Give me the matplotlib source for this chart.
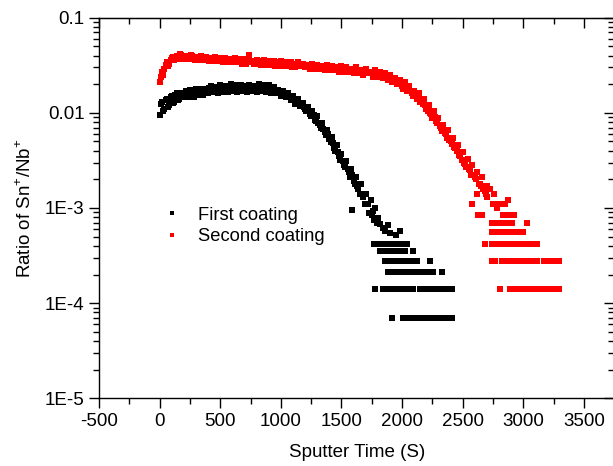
import matplotlib
matplotlib.use("Agg")
import matplotlib.pyplot as plt
from matplotlib.ticker import FixedLocator, LogLocator, NullFormatter

plt.rcParams["font.family"] = ["Liberation Sans", "DejaVu Sans"]
plt.rcParams["mathtext.fontset"] = "custom"
plt.rcParams["mathtext.rm"] = "Liberation Sans"
plt.rcParams["axes.unicode_minus"] = False

# First coating: continuous part (every 20 s)
first_t = [0, 20, 40, 60, 80, 100, 120, 140, 160, 180,
           200, 220, 240, 260, 280, 300, 320, 340, 360, 380,
           400, 420, 440, 460, 480, 500, 520, 540, 560, 580,
           600, 620, 640, 660, 680, 700, 720, 740, 760, 780,
           800, 820, 840, 860, 880, 900, 920, 940, 960, 980,
           1000, 1020, 1040, 1060, 1080, 1100, 1120, 1140, 1160, 1180,
           1200, 1220, 1240, 1260, 1280, 1300, 1320, 1340, 1360, 1380,
           1400, 1420, 1440, 1460, 1480, 1500, 1520, 1540, 1560, 1580,
           1600, 1620, 1640, 1660, 1680, 1700, 1720, 1740, 1760, 1780,
           1800, 1590, 1820, 1840, 1860, 1880, 1900, 1950, 1980]
first_y = [0.0095, 0.013, 0.011, 0.014, 0.012, 0.015, 0.013, 0.016, 0.014, 0.016,
           0.0145, 0.017, 0.015, 0.0165, 0.0145, 0.018, 0.0155, 0.017, 0.0155, 0.018,
           0.016, 0.019, 0.0165, 0.018, 0.016, 0.0195, 0.017, 0.019, 0.0165, 0.0185,
           0.017, 0.0195, 0.0165, 0.019, 0.017, 0.0185, 0.0165, 0.0195, 0.017, 0.019,
           0.0165, 0.020, 0.017, 0.0185, 0.0165, 0.0195, 0.016, 0.0185, 0.016, 0.0175,
           0.015, 0.017, 0.0145, 0.016, 0.0135, 0.015, 0.0125, 0.014, 0.0118, 0.0128,
           0.011, 0.0115, 0.0098, 0.0105, 0.0085, 0.0092, 0.0074, 0.0078, 0.0063, 0.0066,
           0.0053, 0.0056, 0.0043, 0.0046, 0.0035, 0.0037, 0.0028, 0.0031, 0.0024, 0.0026,
           0.0019, 0.0021, 0.0016, 0.0018, 0.0013, 0.0014, 0.0011, 0.0012, 0.00092, 0.0010,
           0.00078, 0.00095, 0.00068, 0.00062, 0.00058, 0.00066, 0.00055, 0.00052, 0.00058]
# the in-between readings (10 s offset)
first_t2 = [10, 30, 50, 70, 90, 110, 130, 150, 170, 190,
            210, 230, 250, 270, 290, 310, 330, 350, 370, 390,
            410, 430, 450, 470, 490, 510, 530, 550, 570, 590,
            610, 630, 650, 670, 690, 710, 730, 750, 770, 790,
            810, 830, 850, 870, 890, 910, 930, 950, 970, 990,
            1010, 1030, 1050, 1070, 1090, 1110, 1130, 1150, 1170, 1190,
            1210, 1230, 1250, 1270, 1290, 1310, 1330, 1350, 1370, 1390,
            1410, 1430, 1450, 1470, 1490, 1510, 1530, 1550, 1570, 1590,
            1610, 1630, 1650, 1670, 1690, 1710, 1730, 1750, 1770, 1790]
first_y2 = [0.0125, 0.0105, 0.0135, 0.0115, 0.0145, 0.0128, 0.0155, 0.0135, 0.0162, 0.015,
            0.0158, 0.0148, 0.0172, 0.0155, 0.0168, 0.0162, 0.0178, 0.0165, 0.0172, 0.0168,
            0.0182, 0.0172, 0.0188, 0.017, 0.0182, 0.0175, 0.0165, 0.0185, 0.0178, 0.020,
            0.0178, 0.0183, 0.0175, 0.0195, 0.0178, 0.019, 0.0182, 0.0178, 0.0188, 0.0175,
            0.0185, 0.0178, 0.0195, 0.0176, 0.0182, 0.0172, 0.0178, 0.0168, 0.0166, 0.0162,
            0.0158, 0.0155, 0.0152, 0.0145, 0.0142, 0.0138, 0.0132, 0.0125, 0.0122, 0.0116,
            0.0104, 0.0105, 0.0092, 0.0095, 0.0082, 0.0079, 0.0070, 0.0068, 0.0058, 0.0060,
            0.0049, 0.0048, 0.0040, 0.0039, 0.0032, 0.0031, 0.0027, 0.0026, 0.0021, 0.0022,
            0.0018, 0.0017, 0.0014, 0.0014, 0.0011, 0.0011, 0.00088, 0.00085, 0.00075, 0.0007]

# First coating: count-limited tail, one row per level
first_lvl1_t = [1920, 2010, 2030, 2050, 2070, 2090, 2110, 2130, 2150, 2175,
                2200, 2225, 2250, 2275, 2300, 2325, 2350, 2375, 2395, 2410]
first_lvl2_t = [1780, 1840, 1860, 1880, 1900, 1925, 1950, 1975, 2000, 2025,
                2050, 2075, 2090, 2150, 2170, 2195, 2220, 2245, 2270, 2295,
                2320, 2345, 2370, 2390, 2410]
first_lvl3_t = [1885, 1905, 1925, 1950, 1975, 2000, 2030, 2060, 2090, 2130,
                2150, 2170, 2190, 2210, 2235, 2255, 2330]
first_lvl4_t = [1860, 1880, 1900, 1920, 1945, 1970, 1990, 2010, 2040, 2070,
                2100, 2125, 2230]
first_lvl5_t = [1820, 1840, 1860, 1880, 1900, 1925, 1950, 1975, 2000, 2025, 2090]
first_lvl6_t = [1770, 1790, 1810, 1830, 1850, 1870, 1890, 1910, 1930, 1960,
                1990, 2040]
first_levels = [7e-5, 1.4e-4, 2.1e-4, 2.8e-4, 3.5e-4, 4.2e-4]

# Second coating: continuous part (every 20 s) plus a few stray points
second_t = [0, 20, 40, 60, 80, 100, 120, 140, 160, 180,
            200, 220, 240, 260, 280, 300, 320, 340, 360, 380,
            400, 420, 440, 460, 480, 500, 520, 540, 560, 580,
            600, 620, 640, 660, 680, 700, 720, 740, 760, 780,
            800, 820, 840, 860, 880, 900, 920, 940, 960, 980,
            1000, 1020, 1040, 1060, 1080, 1100, 1120, 1140, 1160, 1180,
            1200, 1220, 1240, 1260, 1280, 1300, 1320, 1340, 1360, 1380,
            1400, 1420, 1440, 1460, 1480, 1500, 1520, 1540, 1560, 1580,
            1600, 1620, 1640, 1660, 1680, 1700, 1720, 1740, 1760, 1780,
            1800, 1820, 1840, 1860, 1880, 1900, 1920, 1940, 1960, 1980,
            2000, 2020, 2040, 2060, 2080, 2100, 2120, 2140, 2160, 2180,
            2200, 2220, 2240, 2260, 2280, 2300, 2320, 2340, 2360, 2380,
            2400, 2420, 2440, 2460, 2480, 2500, 2520, 2540, 2560, 2580,
            2600, 2620, 2640, 2660, 2680, 2700,
            2575, 2615, 2700, 2725, 2750, 2760, 2780, 2800, 2850, 2875]
second_y = [0.021, 0.027, 0.029, 0.034, 0.033, 0.038, 0.036, 0.040, 0.037, 0.041,
            0.038, 0.040, 0.037, 0.041, 0.038, 0.039, 0.036, 0.040, 0.037, 0.039,
            0.036, 0.038, 0.035, 0.039, 0.036, 0.037, 0.034, 0.038, 0.035, 0.037,
            0.034, 0.038, 0.035, 0.036, 0.033, 0.037, 0.034, 0.041, 0.035, 0.033,
            0.036, 0.034, 0.032, 0.036, 0.033, 0.035, 0.032, 0.035, 0.033, 0.031,
            0.035, 0.032, 0.034, 0.031, 0.034, 0.032, 0.030, 0.034, 0.031, 0.033,
            0.030, 0.032, 0.029, 0.033, 0.030, 0.032, 0.029, 0.031, 0.028, 0.032,
            0.029, 0.031, 0.028, 0.030, 0.027, 0.031, 0.028, 0.030, 0.027, 0.029,
            0.026, 0.030, 0.027, 0.028, 0.025, 0.029, 0.026, 0.027, 0.024, 0.028,
            0.025, 0.027, 0.023, 0.026, 0.022, 0.025, 0.021, 0.023, 0.020, 0.022,
            0.019, 0.021, 0.017, 0.019, 0.016, 0.017, 0.014, 0.016, 0.013, 0.014,
            0.011, 0.012, 0.0098, 0.0105, 0.0082, 0.0088, 0.0070, 0.0075, 0.0060, 0.0066,
            0.0050, 0.0055, 0.0043, 0.0046, 0.0035, 0.0039, 0.0029, 0.0033, 0.0025, 0.0028,
            0.0021, 0.0024, 0.0018, 0.0021, 0.0015, 0.0017,
            0.0011, 0.0014, 0.0013, 0.0016, 0.0011, 0.0014, 0.0010, 0.0011, 0.0011, 0.0012]
second_t2 = [10, 30, 50, 70, 90, 110, 130, 150, 170, 190,
             210, 230, 250, 270, 290, 310, 330, 350, 370, 390,
             410, 430, 450, 470, 490, 510, 530, 550, 570, 590,
             610, 630, 650, 670, 690, 710, 730, 750, 770, 790,
             810, 830, 850, 870, 890, 910, 930, 950, 970, 990,
             1010, 1030, 1050, 1070, 1090, 1110, 1130, 1150, 1170, 1190,
             1210, 1230, 1250, 1270, 1290, 1310, 1330, 1350, 1370, 1390,
             1410, 1430, 1450, 1470, 1490, 1510, 1530, 1550, 1570, 1590,
             1610, 1630, 1650, 1670, 1690, 1710, 1730, 1750, 1770, 1790,
             1810, 1830, 1850, 1870, 1890, 1910, 1930, 1950, 1970, 1990,
             2010, 2030, 2050, 2070, 2090, 2110, 2130, 2150, 2170, 2190,
             2210, 2230, 2250, 2270, 2290, 2310, 2330, 2350, 2370, 2390,
             2410, 2430, 2450, 2470, 2490, 2510, 2530, 2550, 2570, 2590,
             2610, 2630, 2650, 2670, 2690]
second_y2 = [0.024, 0.025, 0.032, 0.031, 0.036, 0.039, 0.037, 0.039, 0.042, 0.039,
             0.037, 0.039, 0.038, 0.040, 0.036, 0.038, 0.039, 0.036, 0.038, 0.037,
             0.035, 0.037, 0.036, 0.035, 0.038, 0.036, 0.035, 0.036, 0.034, 0.036,
             0.035, 0.034, 0.037, 0.035, 0.035, 0.033, 0.036, 0.034, 0.035, 0.034,
             0.033, 0.035, 0.034, 0.032, 0.034, 0.033, 0.034, 0.031, 0.034, 0.033,
             0.031, 0.033, 0.032, 0.033, 0.030, 0.033, 0.031, 0.032, 0.031, 0.031,
             0.031, 0.030, 0.031, 0.031, 0.029, 0.031, 0.030, 0.030, 0.029, 0.030,
             0.028, 0.030, 0.029, 0.028, 0.029, 0.029, 0.027, 0.029, 0.028, 0.028,
             0.027, 0.028, 0.026, 0.028, 0.027, 0.026, 0.027, 0.026, 0.025, 0.026,
             0.024, 0.025, 0.024, 0.024, 0.023, 0.023, 0.022, 0.021, 0.021, 0.020,
             0.018, 0.019, 0.018, 0.017, 0.015, 0.0155, 0.015, 0.013, 0.0125, 0.012,
             0.0105, 0.010, 0.0088, 0.0090, 0.0078, 0.0072, 0.0065, 0.0062, 0.0055, 0.0052,
             0.0047, 0.0044, 0.0040, 0.0036, 0.0032, 0.0030, 0.0027, 0.0026, 0.0022, 0.0022,
             0.0020, 0.0018, 0.0017, 0.0016, 0.0014]

# Second coating: count-limited tail
second_lvl1_t = [2810, 2890, 2905, 2920, 2935, 2950, 2965, 2985, 3000, 3015,
                 3035, 3050, 3065, 3080, 3100, 3115, 3130, 3150, 3170, 3190,
                 3210, 3230, 3250, 3265, 3280, 3290]
second_lvl2_t = [2745, 2770, 2820, 2850, 2870, 2890, 2905, 2925, 2945, 2960,
                 2980, 3000, 3020, 3040, 3060, 3075, 3095, 3115, 3170, 3200,
                 3230, 3260, 3290]
second_lvl3_t = [2685, 2745, 2770, 2800, 2840, 2860, 2880, 2900, 2925, 2950,
                 2975, 3000, 3030, 3060, 3085, 3115]
second_lvl4_t = [2740, 2760, 2790, 2820, 2850, 2875, 2925, 2950, 3000]
second_lvl5_t = [2740, 2760, 2790, 2820, 2850, 2880, 2910, 3030]
second_lvl6_t = [2625, 2660, 2830, 2860, 2890, 2920]
second_levels = [1.4e-4, 2.8e-4, 4.2e-4, 5.6e-4, 7e-4, 8.4e-4]

x_ticks = [-500, 0, 500, 1000, 1500, 2000, 2500, 3000, 3500]
x_minor = [-250, 250, 750, 1250, 1750, 2250, 2750, 3250, 3750]
y_ticks = [1e-5, 1e-4, 1e-3, 1e-2, 1e-1]
y_ticklabels = ["1E-5", "1E-4", "1E-3", "0.01", "0.1"]


def _rows(times_list, levels):
    xs, ys = [], []
    for times, lvl in zip(times_list, levels):
        xs += times
        ys += [lvl] * len(times)
    return xs, ys


fx, fy = _rows([first_lvl1_t, first_lvl2_t, first_lvl3_t, first_lvl4_t,
                first_lvl5_t, first_lvl6_t], first_levels)
sx, sy = _rows([second_lvl1_t, second_lvl2_t, second_lvl3_t, second_lvl4_t,
                second_lvl5_t, second_lvl6_t], second_levels)

W, H = 613, 466
fig = plt.figure(figsize=(W / 100, H / 100), dpi=100)
ax = fig.add_axes([99 / W, 1 - 398.3 / H, (614.3 - 99) / W, (398.3 - 17.7) / H])

ms = 4.2
ax.plot(first_t + first_t2 + fx, first_y + first_y2 + fy, "s", color="black",
        ms=ms, mew=0, label="First coating")
ax.plot(second_t + second_t2 + sx, second_y + second_y2 + sy, "s", color="red",
        ms=ms, mew=0, label="Second coating")

ax.set_yscale("log")
ax.set_xlim(-500, 3750)
ax.set_ylim(1e-5, 0.1)
ax.xaxis.set_major_locator(FixedLocator(x_ticks))
ax.xaxis.set_minor_locator(FixedLocator(x_minor))
ax.set_yticks(y_ticks)
ax.set_yticklabels(y_ticklabels)
ax.yaxis.set_minor_locator(LogLocator(base=10, subs=range(2, 10)))
ax.yaxis.set_minor_formatter(NullFormatter())

ax.tick_params(which="both", direction="out", labelsize=13.5, width=1.0,
               top=False, right=False)
ax.tick_params(which="major", length=7)
ax.tick_params(which="minor", length=4)
for sp in ax.spines.values():
    sp.set_linewidth(1.0)

# inward ticks on top and right, as drawn by the original software
ax_top = ax.secondary_xaxis("top")
ax_top.xaxis.set_major_locator(FixedLocator(x_ticks))
ax_top.xaxis.set_minor_locator(FixedLocator(x_minor))
ax_top.tick_params(which="both", direction="in", labeltop=False, width=1.0)
ax_top.tick_params(which="major", length=7)
ax_top.tick_params(which="minor", length=4)
ax_right = ax.secondary_yaxis("right")
ax_right.set_yticks(y_ticks)
ax_right.yaxis.set_minor_locator(LogLocator(base=10, subs=range(2, 10)))
ax_right.tick_params(which="both", direction="in", labelright=False, width=1.0)
ax_right.tick_params(which="major", length=7)
ax_right.tick_params(which="minor", length=4)

ax.set_xlabel("Sputter Time (S)", fontsize=13.5, labelpad=10)
ax.set_ylabel(r"Ratio of Sn$^{+}$/Nb$^{+}$", fontsize=13.5, labelpad=7)

ax.legend(loc="upper left", bbox_to_anchor=(0.1235, 0.503), frameon=False,
          fontsize=13.2, handlelength=1.0, handletextpad=0.93,
          labelspacing=0.25, borderpad=0, borderaxespad=0, markerscale=0.85)

fig.savefig("out.png", dpi=100)
